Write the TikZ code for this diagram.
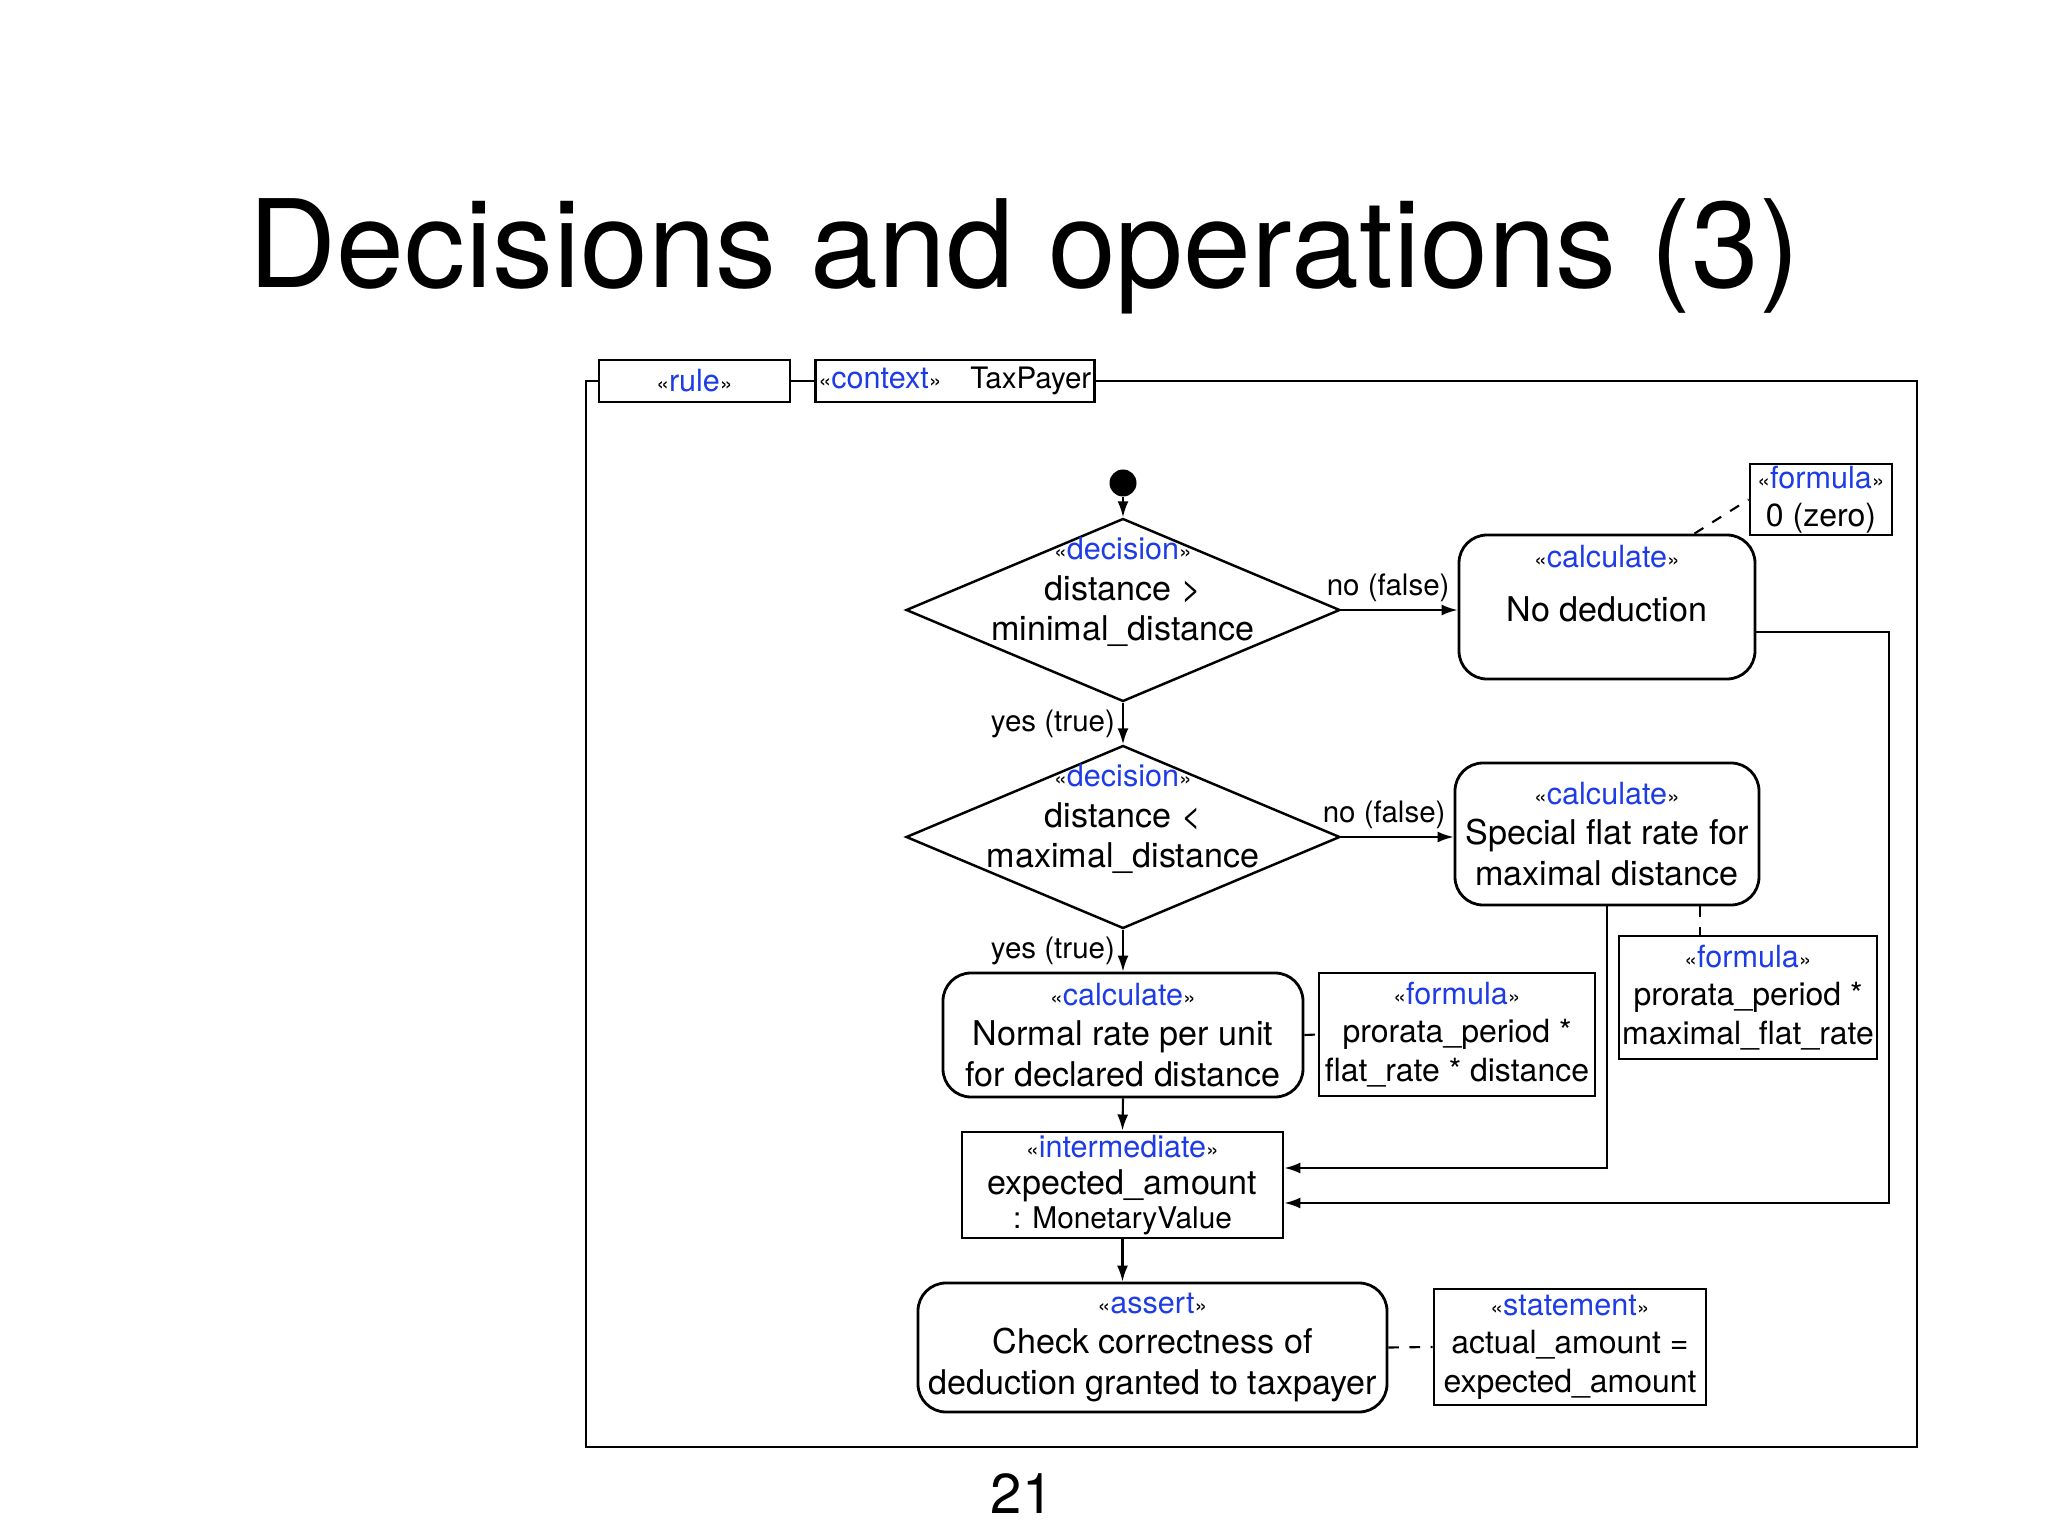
\documentclass[tikz,border=0pt]{standalone}
\usepackage{fontspec}
\setmainfont{TeX Gyre Heros}
\usepackage{tikz}
\usetikzlibrary{shapes.geometric,arrows.meta}

\definecolor{stereoblue}{RGB}{30,60,230}
\newcommand{\actfont}{\fontsize{9.7}{11.5}\selectfont}
\newcommand{\notefont}{\fontsize{9.1}{10.9}\selectfont}
\newcommand{\guardfont}{\fontsize{8.4}{10}\selectfont}
\newcommand{\stereo}[1]{{\fontsize{6.5}{7}\selectfont «}{\color{stereoblue}\fontsize{8.7}{10}\selectfont #1}{\fontsize{6.5}{7}\selectfont »}}

\begin{document}
\begin{tikzpicture}[
  box/.style={draw, line width=0.8pt, fill=white, align=center, inner sep=2pt, font=\actfont},
  action/.style={box, rounded corners=2.8mm},
  notebox/.style={box, inner sep=0.5pt, font=\notefont},
  tag/.style={box, inner sep=1pt, font=\notefont},
  decision/.style={draw, diamond, line width=0.7pt, inner sep=0pt, minimum width=4.34cm, minimum height=1.83cm},
  dtext/.style={align=center, font=\actfont, inner sep=0pt},
  guard/.style={font=\guardfont, inner sep=2pt},
  flow/.style={-{Latex[length=1.6mm,width=1.1mm]}, line width=0.6pt},
  link/.style={dashed, line width=0.6pt}
]
\useasboundingbox (0,0) rectangle (20.48,-15.36);
% Title and page number
\node[anchor=base] (title) at (10.24,-2.88) {\fontsize{34.7}{40}\selectfont Decisions and operations (3)};
\node[anchor=base] (page) at (10.22,-15.13) {\fontsize{16}{19}\selectfont 21};
% Rule frame
\draw[line width=0.8pt] (5.86,-3.81) rectangle (19.17,-14.47);
\node[tag, minimum width=1.91cm, minimum height=0.42cm] (rule) at (6.945,-3.81) {\stereo{rule}};
\node[tag, minimum width=2.76cm, minimum height=0.42cm] (context) at (9.55,-3.81) {\stereo{context}\hspace{0.9em}{\fontsize{8.4}{10}\selectfont TaxPayer}};
% Start and decisions
\node[circle, fill=black, minimum size=2.7mm, inner sep=0pt] (start) at (11.23,-4.83) {};
\node[decision] (d1) at (11.23,-6.10) {};
\node[dtext] (d1text) at (11.23,-5.92) {\stereo{decision}\\distance >\\minimal\_distance};
\node[decision] (d2) at (11.23,-8.37) {};
\node[dtext] (d2text) at (11.23,-8.19) {\stereo{decision}\\distance <\\maximal\_distance};
% Calculations
\node[action, minimum width=2.96cm, minimum height=1.44cm] (nodeduct) at (16.07,-6.07) {\stereo{calculate}\\[4pt]No deduction\\[2pt]\mbox{}};
\node[action, minimum width=3.04cm, minimum height=1.42cm] (special) at (16.07,-8.34) {\stereo{calculate}\\Special flat rate for\\maximal distance};
\node[action, minimum width=3.60cm, minimum height=1.24cm] (normal) at (11.23,-10.35) {\stereo{calculate}\\Normal rate per unit\\for declared distance};
\node[box, inner sep=1pt, minimum width=3.21cm, minimum height=1.06cm] (interm) at (11.225,-11.85) {\stereo{intermediate}\\[-1pt]expected\_amount\\[-2pt]{\fontsize{8.5}{9}\selectfont : MonetaryValue}};
\node[action, minimum width=4.69cm, minimum height=1.29cm] (assert) at (11.525,-13.475) {\stereo{assert}\\Check correctness of\\deduction granted to taxpayer};
% Formulas and statement
\node[notebox, minimum width=1.42cm, minimum height=0.71cm] (zero) at (18.21,-4.995) {\stereo{formula}\\0 (zero)};
\node[notebox, minimum width=2.58cm, minimum height=1.23cm] (flatmax) at (17.48,-9.975) {\stereo{formula}\\prorata\_period *\\maximal\_flat\_rate};
\node[notebox, minimum width=2.76cm, minimum height=1.23cm] (flatnorm) at (14.57,-10.345) {\stereo{formula}\\prorata\_period *\\flat\_rate * distance};
\node[notebox, minimum width=2.72cm, minimum height=1.16cm] (statement) at (15.70,-13.47) {\stereo{statement}\\actual\_amount =\\expected\_amount};
% Control flow
\draw[flow] (start) -- (d1.north);
\draw[flow] (d1.east) -- (d1.east -| nodeduct.west) node[guard, pos=1, above left] {no (false)};
\draw[flow] (d1.south) -- (d2.north) node[guard, midway, left] {yes (true)};
\draw[flow] (d2.east) -- (d2.east -| special.west) node[guard, pos=1, above left] {no (false)};
\draw[flow] (d2.south) -- (normal.north) node[guard, midway, left] {yes (true)};
\draw[flow] (normal.south) -- (interm.north);
\draw[flow] (interm.south) -- (interm.south |- assert.north);
\draw[flow] (special.south) |- ([yshift=1.7mm]interm.east);
\draw[flow] ([yshift=-2.5mm]nodeduct.east) -- ++(1.33,0) |- ([yshift=-1.8mm]interm.east);
% Attached notes
\draw[link] ([xshift=-6.2mm]nodeduct.north east) -- (zero.west);
\draw[link] ([xshift=9.3mm]special.south) -- ([xshift=9.3mm]special.south |- flatmax.north);
\draw[link] (normal.east) -- (flatnorm.west);
\draw[link] (assert.east) -- (statement.west);
\end{tikzpicture}
\end{document}
